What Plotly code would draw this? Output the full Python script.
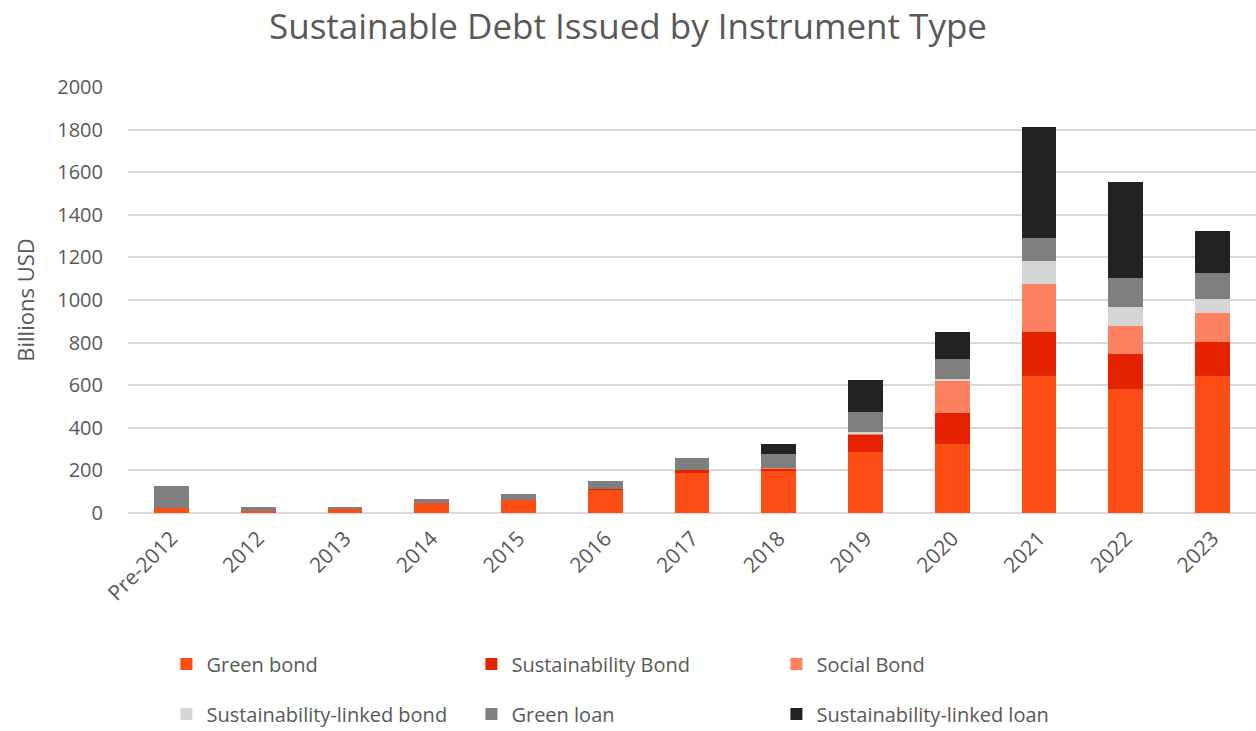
import plotly.graph_objects as go

categories = ["Pre-2012", "2012", "2013", "2014", "2015", "2016", "2017", "2018",
              "2019", "2020", "2021", "2022", "2023"]
green_bond = [25, 10, 22, 46, 61, 110, 192, 198, 285, 324, 643, 584, 643]
sustainability_bond = [0, 0, 0, 0, 0, 3, 8, 10, 80, 144, 208, 161, 158]
social_bond = [0, 0, 0, 0, 0, 0, 0, 4, 10, 152, 223, 135, 139]
sustainability_linked_bond = [0, 0, 0, 0, 0, 0, 0, 0, 5, 8, 111, 89, 65]
green_loan = [102, 20, 8, 18, 28, 37, 57, 65, 96, 94, 105, 133, 120]
sustainability_linked_loan = [0, 0, 0, 0, 0, 0, 0, 45, 148, 126, 521, 450, 199]

series = [
    ("Green bond", green_bond, "#FC4E14", "legend"),
    ("Sustainability Bond", sustainability_bond, "#E42200", "legend"),
    ("Social Bond", social_bond, "#FC8161", "legend"),
    ("Sustainability-linked bond", sustainability_linked_bond, "#D6D6D6", "legend2"),
    ("Green loan", green_loan, "#7F7F7F", "legend2"),
    ("Sustainability-linked loan", sustainability_linked_loan, "#222222", "legend2"),
]

fig = go.Figure()
for name, vals, color, lg in series:
    fig.add_trace(go.Bar(x=categories, y=vals, name=name, marker_color=color,
                         marker_line_width=0, legend=lg))

font_family = "Open Sans, Liberation Sans, sans-serif"
gray = "#595959"
legend_common = dict(orientation="h", xref="container", yref="container",
                     xanchor="left", yanchor="middle", entrywidth=260,
                     entrywidthmode="pixels", font=dict(size=20, color=gray, family=font_family),
                     itemwidth=30, traceorder="normal", bgcolor="rgba(0,0,0,0)")

fig.update_layout(
    width=1256, height=731,
    barmode="stack",
    bargap=0.6,
    plot_bgcolor="white", paper_bgcolor="white",
    margin=dict(l=128, r=0, t=87, b=218),
    title=dict(text="Sustainable Debt Issued by Instrument Type", x=0.5, xanchor="center",
               xref="container", y=0.963, yanchor="middle",
               font=dict(size=35, color=gray, family=font_family)),
    font=dict(family=font_family, color=gray),
    xaxis=dict(tickangle=-45, tickfont=dict(size=21, color=gray), showgrid=False,
               showline=False, ticks="", ticklabelstandoff=8),
    yaxis=dict(range=[0, 2000], dtick=200, tickfont=dict(size=20, color=gray),
               gridcolor="#D9D9D9", gridwidth=1.5, zeroline=True, zerolinecolor="#D9D9D9",
               zerolinewidth=1.5, showline=False, ticks="", ticklabelstandoff=24,
               title=dict(text="Billions USD", font=dict(size=22, color=gray), standoff=16)),
    legend=dict(x=0.1325, y=1 - 664 / 731, **legend_common),
    legend2=dict(x=0.1325, y=1 - 714 / 731, **legend_common),
)

fig.write_html("out.html")
